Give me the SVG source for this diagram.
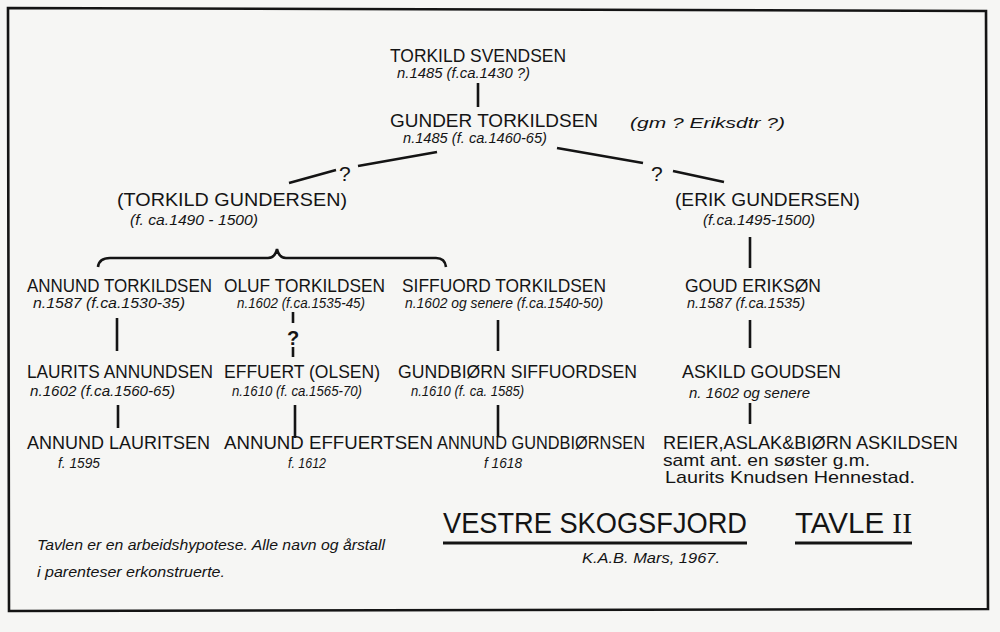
<svg xmlns="http://www.w3.org/2000/svg" width="1000" height="632" viewBox="0 0 1000 632">
<style>
.nm{font-family:"Liberation Sans","DejaVu Sans",sans-serif;font-size:19px;fill:#141414}
.sb{font-family:"Liberation Sans","DejaVu Sans",sans-serif;font-size:14px;font-style:italic;fill:#141414}
.q{font-family:"Liberation Sans","DejaVu Sans",sans-serif;font-size:21px;fill:#141414}
.hw{font-family:"Liberation Sans","DejaVu Sans",sans-serif;font-size:17px;fill:#141414}
.ttl{font-family:"Liberation Sans","DejaVu Sans",sans-serif;font-size:29px;fill:#141414}
.ln{stroke:#141414;stroke-width:2.6;fill:none;stroke-linecap:butt}
</style>
<rect width="1000" height="632" fill="#f6f6f4"/>
<polygon points="8,8 986,11 988,609 9,611" fill="none" stroke="#141414" stroke-width="2.6"/>

<g id="connectors">
<line class="ln" x1="478" y1="83" x2="478" y2="107"/>
<line class="ln" x1="437" y1="152" x2="358" y2="166"/>
<text class="q" x="339" y="181">?</text>
<line class="ln" x1="289" y1="183" x2="336" y2="170"/>
<line class="ln" x1="557" y1="148" x2="643" y2="163"/>
<text class="q" x="651" y="181">?</text>
<line class="ln" x1="673" y1="171" x2="724" y2="182"/>
<path class="ln" d="M98,267 Q99,258 110,258 L268,258 Q275,258 277,249 Q279,258 286,258 L436,258 Q445,258 446,267"/>
<line class="ln" x1="750" y1="237" x2="750" y2="268"/>
<line class="ln" x1="117" y1="318" x2="117" y2="351"/>
<line class="ln" x1="293" y1="312" x2="293" y2="323"/>
<text class="q" x="287" y="345" style="font-weight:bold;font-size:20px">?</text>
<line class="ln" x1="293" y1="347" x2="293" y2="357"/>
<line class="ln" x1="498" y1="320" x2="498" y2="351"/>
<line class="ln" x1="750" y1="320" x2="750" y2="348"/>
<line class="ln" x1="118" y1="405" x2="118" y2="428"/>
<line class="ln" x1="295" y1="405" x2="295" y2="438"/>
<line class="ln" x1="498" y1="405" x2="498" y2="437"/>
<line class="ln" x1="750" y1="403" x2="750" y2="424"/>
</g>

<g id="n-torkild-svendsen">
<text class="nm" x="390" y="62" textLength="176" lengthAdjust="spacingAndGlyphs">TORKILD  SVENDSEN</text>
<text class="sb" x="397" y="78" textLength="133" lengthAdjust="spacingAndGlyphs">n.1485  (f.ca.1430 ?)</text>
</g>
<g id="n-gunder-torkildsen">
<text class="nm" x="390" y="127" textLength="208" lengthAdjust="spacingAndGlyphs">GUNDER TORKILDSEN</text>
<text class="sb" x="403" y="143" textLength="144" lengthAdjust="spacingAndGlyphs">n.1485 (f. ca.1460-65)</text>
</g>
<g id="n-gm-eriksdtr">
<text class="sb" x="630" y="128" textLength="155" lengthAdjust="spacingAndGlyphs" style="font-size:15px">(gm    ?    Eriksdtr ?)</text>
</g>
<g id="n-torkild-gundersen">
<text class="nm" x="117" y="206" textLength="230" lengthAdjust="spacingAndGlyphs">(TORKILD  GUNDERSEN)</text>
<text class="sb" x="130" y="225" textLength="128" lengthAdjust="spacingAndGlyphs">(f. ca.1490 - 1500)</text>
</g>
<g id="n-erik-gundersen">
<text class="nm" x="675" y="206" textLength="185" lengthAdjust="spacingAndGlyphs">(ERIK GUNDERSEN)</text>
<text class="sb" x="703" y="225" textLength="112" lengthAdjust="spacingAndGlyphs">(f.ca.1495-1500)</text>
</g>

<g id="n-annund-torkildsen">
<text class="nm" x="27" y="292" textLength="185" lengthAdjust="spacingAndGlyphs">ANNUND TORKILDSEN</text>
<text class="sb" x="33" y="308" textLength="152" lengthAdjust="spacingAndGlyphs">n.1587   (f.ca.1530-35)</text>
</g>
<g id="n-oluf-torkildsen">
<text class="nm" x="224" y="292" textLength="161" lengthAdjust="spacingAndGlyphs">OLUF  TORKILDSEN</text>
<text class="sb" x="237" y="308" textLength="128" lengthAdjust="spacingAndGlyphs">n.1602 (f.ca.1535-45)</text>
</g>
<g id="n-siffuord-torkildsen">
<text class="nm" x="402" y="292" textLength="204" lengthAdjust="spacingAndGlyphs">SIFFUORD TORKILDSEN</text>
<text class="sb" x="405" y="308" textLength="198" lengthAdjust="spacingAndGlyphs">n.1602 og senere (f.ca.1540-50)</text>
</g>
<g id="n-goud-eriksoen">
<text class="nm" x="685" y="292" textLength="136" lengthAdjust="spacingAndGlyphs">GOUD ERIKSØN</text>
<text class="sb" x="687" y="308" textLength="118" lengthAdjust="spacingAndGlyphs">n.1587  (f.ca.1535)</text>
</g>

<g id="n-laurits-annundsen">
<text class="nm" x="27" y="378" textLength="186" lengthAdjust="spacingAndGlyphs">LAURITS ANNUNDSEN</text>
<text class="sb" x="30" y="396" textLength="145" lengthAdjust="spacingAndGlyphs">n.1602 (f.ca.1560-65)</text>
</g>
<g id="n-effuert-olsen">
<text class="nm" x="224" y="378" textLength="156" lengthAdjust="spacingAndGlyphs">EFFUERT (OLSEN)</text>
<text class="sb" x="232" y="396" textLength="130" lengthAdjust="spacingAndGlyphs">n.1610 (f. ca.1565-70)</text>
</g>
<g id="n-gundbioern-siffuordsen">
<text class="nm" x="398" y="378" textLength="239" lengthAdjust="spacingAndGlyphs">GUNDBIØRN  SIFFUORDSEN</text>
<text class="sb" x="411" y="396" textLength="113" lengthAdjust="spacingAndGlyphs">n.1610 (f. ca. 1585)</text>
</g>
<g id="n-askild-goudsen">
<text class="nm" x="682" y="378" textLength="159" lengthAdjust="spacingAndGlyphs">ASKILD GOUDSEN</text>
<text class="sb" x="689" y="398" textLength="121" lengthAdjust="spacingAndGlyphs">n. 1602 og senere</text>
</g>

<g id="n-annund-lauritsen">
<text class="nm" x="27" y="449" textLength="183" lengthAdjust="spacingAndGlyphs">ANNUND  LAURITSEN</text>
<text class="sb" x="58" y="468" textLength="42" lengthAdjust="spacingAndGlyphs">f. 1595</text>
</g>
<g id="n-annund-effuertsen">
<text class="nm" x="224" y="449" textLength="209" lengthAdjust="spacingAndGlyphs">ANNUND EFFUERTSEN</text>
<text class="sb" x="288" y="468" textLength="38" lengthAdjust="spacingAndGlyphs">f. 1612</text>
</g>
<g id="n-annund-gundbioernsen">
<text class="nm" x="437" y="449" textLength="208" lengthAdjust="spacingAndGlyphs">ANNUND GUNDBIØRNSEN</text>
<text class="sb" x="484" y="468" textLength="38" lengthAdjust="spacingAndGlyphs">f  1618</text>
</g>
<g id="n-reier-aslak-bioern">
<text class="nm" x="663" y="449" textLength="295" lengthAdjust="spacingAndGlyphs">REIER,ASLAK&amp;BIØRN ASKILDSEN</text>
<text class="hw" x="663" y="466" textLength="207" lengthAdjust="spacingAndGlyphs">samt ant. en søster g.m.</text>
<text class="hw" x="665" y="483" textLength="250" lengthAdjust="spacingAndGlyphs">Laurits Knudsen Hennestad.</text>
</g>

<g id="title">
<text class="ttl" x="443" y="533" textLength="304" lengthAdjust="spacingAndGlyphs">VESTRE  SKOGSFJORD</text>
<line x1="443" y1="543" x2="747" y2="543" stroke="#141414" stroke-width="3"/>
<text class="ttl" x="795" y="533" textLength="117" lengthAdjust="spacingAndGlyphs">TAVLE <tspan style="font-family:'Liberation Serif',serif">II</tspan></text>
<line x1="795" y1="543" x2="912" y2="543" stroke="#141414" stroke-width="3"/>
<text class="sb" x="582" y="563" textLength="138" lengthAdjust="spacingAndGlyphs">K.A.B.   Mars,  1967.</text>
</g>
<g id="note">
<text class="sb" x="37" y="550" textLength="348" lengthAdjust="spacingAndGlyphs">Tavlen er en arbeidshypotese. Alle navn og årstall</text>
<text class="sb" x="37" y="577" textLength="188" lengthAdjust="spacingAndGlyphs">i  parenteser erkonstruerte.</text>
</g>
</svg>
